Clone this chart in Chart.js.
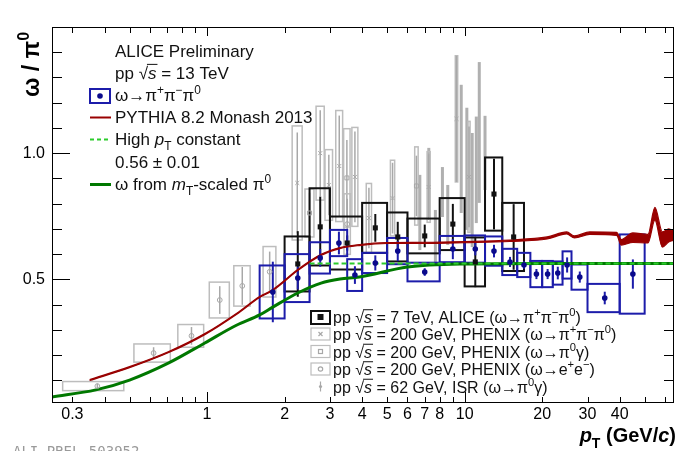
<!DOCTYPE html>
<html>
<head>
<meta charset="utf-8">
<script src="https://cdn.jsdelivr.net/npm/chart.js@4.4.1/dist/chart.umd.min.js"></script>
<style>
  html, body { margin: 0; padding: 0; background: #fff; }
</style>
</head>
<body>
<canvas id="chart" width="679" height="451"></canvas>
<script>
// ─── Data ────────────────────────────────────────────────────────────────────

// ALICE pp 13 TeV, omega -> pi+ pi- pi0
const alicePt    = [1.8, 2.25, 2.75, 3.25, 3.75, 4.5, 5.5, 7, 9, 11, 13, 15, 17, 19, 21, 23, 25, 28, 35, 45];
const aliceBinLo = [1.6, 2.0, 2.5, 3.0, 3.5, 4, 5, 6, 8, 10, 12, 14, 16, 18, 20, 22, 24, 26, 30, 40];
const aliceBinHi = [2.0, 2.5, 3.0, 3.5, 4.0, 5, 6, 8, 10, 12, 14, 16, 18, 20, 22, 24, 26, 30, 40, 50];
const aliceVal   = [0.45, 0.505, 0.585, 0.644, 0.517, 0.565, 0.612, 0.529, 0.62, 0.62, 0.612, 0.569, 0.557, 0.521, 0.521, 0.525, 0.557, 0.509, 0.426, 0.521];
const aliceStat  = [0.12, 0.045, 0.035, 0.045, 0.035, 0.03, 0.04, 0.015, 0.04, 0.025, 0.025, 0.02, 0.015, 0.02, 0.02, 0.025, 0.03, 0.022, 0.025, 0.058];
const aliceSys   = [0.105, 0.095, 0.062, 0.052, 0.063, 0.04, 0.052, 0.037, 0.052, 0.054, 0.058, 0.052, 0.048, 0.052, 0.052, 0.046, 0.054, 0.05, 0.056, 0.157];

// ALICE pp 7 TeV
const alice7Pt    = [2.25, 2.75, 3.5, 4.5, 5.5, 7, 9, 11, 13, 15.5];
const alice7BinLo = [2.0, 2.5, 3.0, 4, 5, 6, 8, 10, 12, 14];
const alice7BinHi = [2.5, 3.0, 4.0, 5, 6, 8, 10, 12, 14, 17];
const alice7Val   = [0.561, 0.708, 0.644, 0.704, 0.668, 0.672, 0.719, 0.569, 0.838, 0.668];
const alice7Stat  = [0.13, 0.12, 0.03, 0.055, 0.06, 0.045, 0.08, 0.1, 0.14, 0.13];
const alice7Sys   = [0.109, 0.153, 0.105, 0.099, 0.097, 0.069, 0.103, 0.097, 0.145, 0.135];

// PHENIX pp 200 GeV, three decay channels (box half width 0.1 GeV/c)
const phenixBoxHalfWidth = 0.1;
const phxPPPPt   = [2.24, 2.75, 2.97, 3.26, 3.75, 4.25, 5.25, 7.25, 9.3, 10.4];
const phxPPPVal  = [0.882, 1.0, 0.874, 0.949, 0.906, 0.743, 0.822, 0.866, 1.136, 0.906];
const phxPPPStat = [0.2, 0.17, 0.12, 0.2, 0.18, 0.12, 0.14, 0.13, 0.25, 0.2];
const phxPPPSys  = [0.226, 0.186, 0.14, 0.22, 0.196, 0.137, 0.15, 0.14, 0.25, 0.22];

const phxPGPt   = [2.5, 3.49, 6.5];
const phxPGVal  = [0.763, 0.902, 0.87];
const phxPGStat = [0.08, 0.15, 0.12];
const phxPGSys  = [0.095, 0.195, 0.155];

const phxEEPt   = [0.375, 0.62, 0.87, 1.12, 1.37, 1.75, 3.5];
const phxEEVal  = [0.077, 0.208, 0.276, 0.418, 0.474, 0.53, 0.719];
const phxEEStat = [0.01, 0.023, 0.035, 0.055, 0.075, 0.08, 0.1];
const phxEESys  = [0.018, 0.036, 0.045, 0.071, 0.08, 0.1, 0.12];

// ISR pp 62 GeV
const isrPt  = [6.7, 7.26, 7.7, 8.2, 8.6, 9.7, 10.2, 10.7, 11.1, 11.4, 12.0];
const isrVal = [0.765, 0.884, 0.666, 0.846, 0.755, 1.017, 0.938, 0.854, 0.934, 1.082, 1.001];
const isrErr = [0.149, 0.137, 0.109, 0.099, 0.119, 0.254, 0.242, 0.226, 0.211, 0.279, 0.147];

// PYTHIA 8.2 Monash 2013 band
const pythiaPt = [0.35, 0.5, 0.71, 0.98, 1.3, 1.6, 1.8, 2.25, 2.77, 3.28, 3.9, 5, 7, 10, 15, 20.9, 24.9, 26.7, 30.6, 38.9, 40.6, 45, 51.5, 54.8, 58.6, 62, 65];
const pythiaHi = [0.103, 0.154, 0.214, 0.285, 0.365, 0.432, 0.46, 0.539, 0.599, 0.626, 0.638, 0.646, 0.647, 0.65, 0.656, 0.668, 0.688, 0.672, 0.688, 0.686, 0.658, 0.684, 0.678, 0.785, 0.688, 0.70, 0.69];
const pythiaLo = [0.099, 0.15, 0.21, 0.281, 0.361, 0.428, 0.456, 0.535, 0.595, 0.622, 0.634, 0.642, 0.642, 0.645, 0.65, 0.66, 0.68, 0.664, 0.678, 0.674, 0.636, 0.646, 0.644, 0.735, 0.628, 0.648, 0.655];

// High-pT constant fit
const constPt  = [2.5, 65];
const constVal = 0.563;

// omega from mT-scaled pi0
const mtPt  = [0.25, 0.37, 0.5, 0.71, 0.98, 1.3, 1.6, 1.8, 2.25, 2.77, 3.28, 3.9, 6, 10, 20, 65];
const mtVal = [0.034, 0.062, 0.101, 0.169, 0.248, 0.318, 0.359, 0.39, 0.446, 0.485, 0.501, 0.509, 0.549, 0.561, 0.563, 0.563];

// Axis ticks
const xTickLabels = [0.3, 1, 2, 3, 4, 5, 6, 7, 8, 10, 20, 30, 40];
const xTickMarks  = [0.3, 0.4, 0.5, 0.6, 0.7, 0.8, 0.9, 1, 2, 3, 4, 5, 6, 7, 8, 9, 10, 20, 30, 40, 50, 60];
const xMajorMarks = [1, 10];
const yTickLabels = [0.5, 1.0];
const yTickMarks  = [0.1, 0.2, 0.3, 0.4, 0.5, 0.6, 0.7, 0.8, 0.9, 1.0, 1.1, 1.2, 1.3, 1.4];

// ─── Styles ──────────────────────────────────────────────────────────────────

const COLORS = {
  blue:      '#1c1caa',
  bluePoint: '#0a0a8c',
  black:     '#111111',
  gray:      '#bdbdbd',
  grayPoint: '#a8a8a8',
  isr:       'rgba(150, 150, 150, 0.75)',
  red:       '#990000',
  green:     '#007800',
  greenDash: '#2ccc2c',
};
const FONT = '"Liberation Sans", Arial, Helvetica, sans-serif';

const pts = (xs, ys) => xs.map((v, i) => ({ x: v, y: ys[i] }));

// ─── Text helper: parts of [text, kind] with kind '', 'i', 'sup', 'sub', 'over' ─

function rich(ctx, parts, x, y, size, bold, measureOnly) {
  let cx = x;
  for (const [t, k] of parts) {
    const small = k === 'sup' || k === 'sub';
    const fs = small ? size * 0.7 : size;
    const it = (k === 'i' || k === 'over') ? 'italic ' : '';
    ctx.font = `${it}${bold ? 'bold ' : ''}${fs}px ${FONT}`;
    const dy = k === 'sup' ? -size * 0.42 : (k === 'sub' ? size * 0.3 : 0);
    const w = ctx.measureText(t).width;
    if (!measureOnly) {
      ctx.fillText(t, cx, y + dy);
      if (k === 'over') ctx.fillRect(cx - 1, y - size * 0.86, w + 2, 1);
    }
    cx += w;
  }
  return cx - x;
}

const ROOTS = [['pp ', ''], ['√', ''], ['s', 'over']];
const DECAY3 = [['(ω→π', ''], ['+', 'sup'], ['π', ''], ['−', 'sup'], ['π', ''], ['0', 'sup'], [')', '']];

// ─── Error boxes / bars (below the datasets) ─────────────────────────────────

const errorBoxes = {
  id: 'errorBoxes',
  beforeDatasetsDraw(chart) {
    const { ctx, chartArea: a, scales: { x, y } } = chart;
    const px = v => x.getPixelForValue(v);
    const py = v => y.getPixelForValue(v);
    const box = (x0, x1, y0, y1) => ctx.strokeRect(px(x0), py(y1), px(x1) - px(x0), py(y0) - py(y1));
    const vbar = (xv, y0, y1) => { ctx.beginPath(); ctx.moveTo(px(xv), py(y0)); ctx.lineTo(px(xv), py(y1)); ctx.stroke(); };

    ctx.save();
    ctx.beginPath();
    ctx.rect(a.left, a.top, a.right - a.left, a.bottom - a.top);
    ctx.clip();

    // ISR bars
    ctx.fillStyle = COLORS.isr;
    isrPt.forEach((p, i) => {
      const t = py(isrVal[i] + isrErr[i]), b = py(isrVal[i] - isrErr[i]);
      ctx.fillRect(px(p) - 1.5, t, 3, b - t);
    });

    // PHENIX boxes and stat bars
    ctx.lineWidth = 1.5;
    [[phxPPPPt, phxPPPVal, phxPPPStat, phxPPPSys],
     [phxPGPt, phxPGVal, phxPGStat, phxPGSys],
     [phxEEPt, phxEEVal, phxEEStat, phxEESys]].forEach(([xs, ys, st, sy]) => {
      xs.forEach((p, i) => {
        ctx.strokeStyle = COLORS.gray;
        box(p - phenixBoxHalfWidth, p + phenixBoxHalfWidth, ys[i] - sy[i], ys[i] + sy[i]);
        ctx.strokeStyle = COLORS.grayPoint;
        vbar(p, ys[i] - st[i], ys[i] + st[i]);
      });
    });

    // ALICE 7 TeV
    ctx.lineWidth = 2;
    ctx.strokeStyle = COLORS.black;
    alice7Pt.forEach((p, i) => {
      box(alice7BinLo[i], alice7BinHi[i], alice7Val[i] - alice7Sys[i], alice7Val[i] + alice7Sys[i]);
      vbar(p, alice7Val[i] - alice7Stat[i], alice7Val[i] + alice7Stat[i]);
    });

    // ALICE 13 TeV
    ctx.strokeStyle = COLORS.blue;
    alicePt.forEach((p, i) => {
      box(aliceBinLo[i], aliceBinHi[i], aliceVal[i] - aliceSys[i], aliceVal[i] + aliceSys[i]);
      vbar(p, aliceVal[i] - aliceStat[i], aliceVal[i] + aliceStat[i]);
    });
    ctx.restore();
  },
};

// ─── Frame, ticks, legends and titles ────────────────────────────────────────

const decorations = {
  id: 'decorations',
  afterDraw(chart) {
    const { ctx, chartArea: a, scales: { x, y } } = chart;
    ctx.save();
    ctx.strokeStyle = '#000';
    ctx.lineWidth = 1;
    ctx.strokeRect(a.left + 0.5, a.top + 0.5, a.right - a.left - 1, a.bottom - a.top - 1);

    ctx.beginPath();
    xTickMarks.forEach(v => {
      const p = Math.round(x.getPixelForValue(v)) + 0.5;
      const bl = xMajorMarks.includes(v) ? 11 : 6;
      const tl = xMajorMarks.includes(v) ? 9 : 6;
      ctx.moveTo(p, a.bottom); ctx.lineTo(p, a.bottom - bl);
      ctx.moveTo(p, a.top);    ctx.lineTo(p, a.top + tl);
    });
    yTickMarks.forEach(v => {
      const p = Math.round(y.getPixelForValue(v)) + 0.5;
      const len = yTickLabels.includes(v) ? 18 : 10;
      ctx.moveTo(a.left, p);  ctx.lineTo(a.left + len, p);
      ctx.moveTo(a.right, p); ctx.lineTo(a.right - len, p);
    });
    ctx.stroke();

    // top-left legend
    ctx.fillStyle = '#111';
    ctx.textBaseline = 'alphabetic';
    const lx = 115, fs = 17;
    rich(ctx, [['ALICE Preliminary', '']], lx, 56.5, fs);
    rich(ctx, [...ROOTS, [' = 13 TeV', '']], lx, 78.5, fs);
    rich(ctx, [['ω→π', ''], ['+', 'sup'], ['π', ''], ['−', 'sup'], ['π', ''], ['0', 'sup']], lx, 101, fs);
    rich(ctx, [['PYTHIA 8.2 Monash 2013', '']], lx, 122.5, fs);
    rich(ctx, [['High ', ''], ['p', 'i'], ['T', 'sub'], [' constant', '']], lx, 145, fs);
    rich(ctx, [['0.56 ± 0.01', '']], lx, 167.5, fs);
    rich(ctx, [['ω from ', ''], ['m', 'i'], ['T', 'sub'], ['-scaled π', ''], ['0', 'sup']], lx, 190, fs);

    ctx.lineWidth = 2;
    ctx.strokeStyle = COLORS.blue;
    ctx.strokeRect(90, 89, 20, 14);
    ctx.fillStyle = COLORS.bluePoint;
    ctx.beginPath(); ctx.arc(100, 96, 2.8, 0, Math.PI * 2); ctx.fill();
    const hline = (y0, color, w, dash) => {
      ctx.strokeStyle = color; ctx.lineWidth = w; ctx.setLineDash(dash || []);
      ctx.beginPath(); ctx.moveTo(90, y0); ctx.lineTo(111, y0); ctx.stroke();
      ctx.setLineDash([]);
    };
    hline(117.5, COLORS.red, 2);
    hline(139.5, COLORS.greenDash, 2, [4, 3]);
    hline(184.5, COLORS.green, 3);

    // bottom-right legend
    const bx = 333, bfs = 16;
    const rows = [
      [...ROOTS, [' = 7 TeV, ALICE ', ''], ...DECAY3],
      [...ROOTS, [' = 200 GeV, PHENIX ', ''], ...DECAY3],
      [...ROOTS, [' = 200 GeV, PHENIX (ω→π', ''], ['0', 'sup'], ['γ)', '']],
      [...ROOTS, [' = 200 GeV, PHENIX (ω→e', ''], ['+', 'sup'], ['e', ''], ['−', 'sup'], [')', '']],
      [...ROOTS, [' = 62 GeV, ISR (ω→π', ''], ['0', 'sup'], ['γ)', '']],
    ];
    const rowY = [317, 334, 351.5, 369, 386.5];
    ctx.fillStyle = '#111';
    rows.forEach((r, i) => rich(ctx, r, bx, rowY[i] + 6, bfs));

    ctx.lineWidth = 2; ctx.strokeStyle = COLORS.black;
    ctx.strokeRect(311, rowY[0] - 6, 19, 13);
    ctx.fillStyle = COLORS.black;
    ctx.fillRect(317.5, rowY[0] - 3, 6, 6);
    ctx.lineWidth = 1.2; ctx.strokeStyle = COLORS.gray;
    [1, 2, 3].forEach(i => ctx.strokeRect(311, rowY[i] - 6, 19, 12));
    ctx.strokeStyle = COLORS.grayPoint;
    ctx.beginPath();
    ctx.moveTo(318.5, rowY[1] - 2); ctx.lineTo(322.5, rowY[1] + 2);
    ctx.moveTo(322.5, rowY[1] - 2); ctx.lineTo(318.5, rowY[1] + 2);
    ctx.stroke();
    ctx.strokeRect(318.5, rowY[2] - 2, 4, 4);
    ctx.beginPath(); ctx.arc(320.5, rowY[3], 2.2, 0, Math.PI * 2); ctx.stroke();
    ctx.beginPath(); ctx.moveTo(320.5, rowY[4] - 5); ctx.lineTo(320.5, rowY[4] + 5); ctx.stroke();
    ctx.fillStyle = COLORS.grayPoint;
    ctx.beginPath(); ctx.arc(320.5, rowY[4], 1.6, 0, Math.PI * 2); ctx.fill();

    // axis titles
    ctx.fillStyle = '#000';
    ctx.save();
    ctx.translate(39, 97);
    ctx.rotate(-Math.PI / 2);
    rich(ctx, [['ω / π', ''], ['0', 'sup']], 0, 0, 23, true);
    ctx.restore();

    const xt = [['p', 'i'], ['T', 'sub'], [' (GeV/', ''], ['c', 'i'], [')', '']];
    const w = rich(ctx, xt, 0, 0, 20, true, true);
    rich(ctx, xt, 676 - w, 442, 20, true);

    // watermark
    ctx.fillStyle = '#9a9a9a';
    ctx.font = '14px "DejaVu Sans Mono", monospace';
    ctx.fillText('ALI-PREL-503952', 13, 456);
    ctx.restore();
  },
};

// ─── Chart ───────────────────────────────────────────────────────────────────

new Chart(document.getElementById('chart'), {
  type: 'scatter',
  data: {
    datasets: [
      { label: 'ALICE 13 TeV', data: pts(alicePt, aliceVal), pointStyle: 'circle', pointRadius: 2.8,
        backgroundColor: COLORS.bluePoint, borderColor: COLORS.bluePoint, borderWidth: 0 },
      { label: 'ALICE 7 TeV', data: pts(alice7Pt, alice7Val), pointStyle: 'rect', pointRadius: 3.6,
        backgroundColor: COLORS.black, borderColor: COLORS.black, borderWidth: 0 },
      { label: 'PHENIX 3pi', data: pts(phxPPPPt, phxPPPVal), pointStyle: 'crossRot', pointRadius: 2.8,
        borderColor: COLORS.grayPoint, borderWidth: 1 },
      { label: 'PHENIX pi0 gamma', data: pts(phxPGPt, phxPGVal), pointStyle: 'rect', pointRadius: 2.8,
        backgroundColor: 'rgba(0,0,0,0)', borderColor: COLORS.grayPoint, borderWidth: 1 },
      { label: 'PHENIX ee', data: pts(phxEEPt, phxEEVal), pointStyle: 'circle', pointRadius: 2.4,
        backgroundColor: 'rgba(0,0,0,0)', borderColor: COLORS.grayPoint, borderWidth: 1 },
      { label: 'High pT constant', data: pts(constPt, constPt.map(() => constVal)), showLine: true,
        pointRadius: 0, borderColor: COLORS.greenDash, borderWidth: 2, borderDash: [5, 3] },
      { label: 'mT scaling', data: pts(mtPt, mtVal), showLine: true, pointRadius: 0,
        borderColor: COLORS.green, borderWidth: 3, cubicInterpolationMode: 'monotone' },
      { label: 'PYTHIA hi', data: pts(pythiaPt, pythiaHi), showLine: true, pointRadius: 0,
        borderColor: COLORS.red, borderWidth: 1.2, cubicInterpolationMode: 'monotone' },
      { label: 'PYTHIA lo', data: pts(pythiaPt, pythiaLo), showLine: true, pointRadius: 0,
        borderColor: COLORS.red, borderWidth: 1.2, cubicInterpolationMode: 'monotone',
        fill: '-1', backgroundColor: COLORS.red },
    ],
  },
  options: {
    responsive: false,
    animation: false,
    layout: { padding: { left: 0, right: 0, top: 27, bottom: 0 } },
    plugins: { legend: { display: false }, tooltip: { enabled: false } },
    scales: {
      x: {
        type: 'logarithmic',
        min: 0.25,
        max: 65,
        grid: { display: false, drawTicks: false },
        border: { display: false },
        afterBuildTicks: s => { s.ticks = xTickLabels.map(v => ({ value: v })); },
        afterFit: s => { s.height = 48; },
        ticks: {
          autoSkip: false, maxRotation: 0, padding: 2, color: '#000',
          font: { family: FONT, size: 16 },
          callback: v => String(v),
        },
      },
      y: {
        type: 'linear',
        min: 0.01,
        max: 1.5,
        grid: { display: false, drawTicks: false },
        border: { display: false },
        afterBuildTicks: s => { s.ticks = yTickLabels.map(v => ({ value: v })); },
        afterFit: s => { s.width = 52; },
        ticks: {
          padding: 7, color: '#000',
          font: { family: FONT, size: 16 },
          callback: v => v.toFixed(1),
        },
      },
    },
  },
  plugins: [errorBoxes, decorations],
});
</script>
</body>
</html>
